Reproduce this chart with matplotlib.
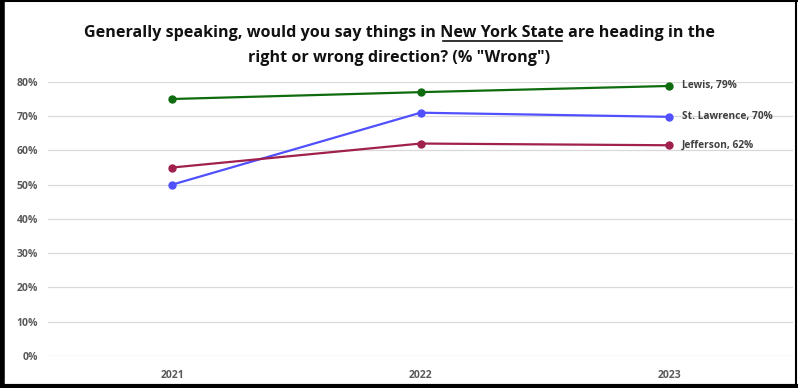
import numpy as np
import matplotlib.pyplot as plt
from matplotlib.lines import Line2D

years = ['2021', '2022', '2023']
lewis = [75, 77, 78.8]
st_lawrence = [50, 71, 69.8]
jefferson = [55, 62, 61.5]
series_names = ['Lewis', 'St. Lawrence', 'Jefferson']
end_labels = ['Lewis, 79%', 'St. Lawrence, 70%', 'Jefferson, 62%']
colors = ['#0e6b0e', '#5050ff', '#a0204e']

plt.rcParams['font.family'] = ['Open Sans', 'DejaVu Sans']

fig = plt.figure(figsize=(7.98, 3.88), dpi=100)
ax = fig.add_axes([0.060, 0.0825, 0.934, 0.7065])

x = np.arange(len(years))
for vals, col, lab in zip([lewis, st_lawrence, jefferson], colors, end_labels):
    ax.plot(x, vals, color=col, lw=1.6, marker='o', ms=5, zorder=3)
    ax.annotate(lab, (x[-1], vals[-1]), xytext=(9.5, 0), textcoords='offset points',
                va='center', ha='left', fontsize=7.3, fontweight='bold', color='#404040')

ax.set_xlim(-0.5, 2.5)
ax.set_ylim(0, 80)
ax.set_yticks(np.arange(0, 81, 10))
ax.set_yticklabels([f'{v}%' for v in range(0, 81, 10)])
ax.set_xticks(x)
ax.set_xticklabels(years)
ax.grid(axis='y', color='#d9d9d9', lw=0.9)
ax.set_axisbelow(True)
for s in ax.spines.values():
    s.set_visible(False)
ax.tick_params(length=0, labelsize=7.5, labelcolor='#595959')
ax.tick_params(axis='y', pad=7)
ax.tick_params(axis='x', pad=10)
for t in ax.get_xticklabels() + ax.get_yticklabels():
    t.set_fontweight('bold')

# title with underlined part
line1_pre = 'Generally speaking, would you say things in '
line1_u = 'New York State'
line1_post = ' are heading in the'
tkw = dict(fontsize=11.6, fontweight='bold', color='#111111', va='baseline')
fig.canvas.draw()
r = fig.canvas.get_renderer()
full = fig.text(0.5, 0.905, line1_pre + line1_u + line1_post, ha='center', **tkw)
fb = full.get_window_extent(r)
tmp = fig.text(0, 0, line1_pre, **tkw)
w_pre = tmp.get_window_extent(r).width
tmp.remove()
tmp = fig.text(0, 0, line1_pre + line1_u, **tkw)
w_pu = tmp.get_window_extent(r).width
tmp.remove()
W = fig.bbox.width
H = fig.bbox.height
x0 = (fb.x0 + w_pre + 3) / W
x1 = (fb.x0 + w_pu - 1) / W
yu = 0.905 - 4 / H
fig.add_artist(Line2D([x0, x1], [yu, yu], color='#111111', lw=1.2, transform=fig.transFigure))
fig.text(0.5, 0.84, 'right or wrong direction? (% "Wrong")', ha='center', **tkw)

# frame
fig.add_artist(Line2D([0.003, 0.003], [0, 1], color='black', lw=4, transform=fig.transFigure))
fig.add_artist(Line2D([0, 1], [0.004, 0.004], color='black', lw=3, transform=fig.transFigure))
fig.add_artist(Line2D([0, 1], [0.998, 0.998], color='black', lw=1.5, transform=fig.transFigure))
fig.add_artist(Line2D([0.998, 0.998], [0, 1], color='black', lw=1.5, transform=fig.transFigure))

fig.savefig('out.png', dpi=100)
